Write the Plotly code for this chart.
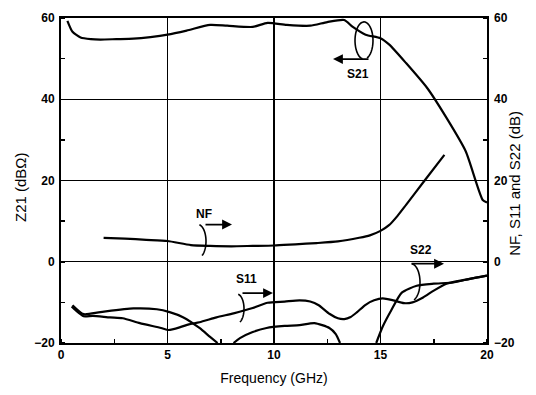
import numpy as np
import plotly.graph_objects as go

# ---------------- data ----------------
s21_f = [0.3, 0.54, 0.92, 1.4, 1.85, 2.6, 3.4, 4.2, 5.0, 5.9, 7.0, 7.8, 9.0, 9.7, 10.6, 11.7, 12.5, 13.3, 13.7, 14.3, 15.0, 15.4, 16.2, 17.2, 18.1, 19.0, 19.8, 20.0]
s21_z = [59.3, 56.6, 55.2, 54.8, 54.7, 54.8, 54.9, 55.3, 55.9, 56.9, 58.3, 58.1, 57.8, 58.8, 58.3, 58.1, 59.0, 59.5, 57.8, 55.9, 55.0, 53.5, 48.9, 42.7, 35.4, 27.2, 15.2, 14.6]

nf_f = [2.0, 3.0, 4.0, 5.0, 6.1, 7.0, 8.0, 9.0, 10.0, 11.0, 12.0, 13.0, 14.0, 14.5, 15.0, 15.4, 15.8, 16.2, 17.0, 18.0]
nf_db = [5.9, 5.7, 5.4, 5.1, 4.1, 3.9, 3.8, 3.9, 4.0, 4.3, 4.6, 5.0, 5.9, 6.5, 7.6, 9.0, 11.3, 14.0, 19.5, 26.3]

s11_f = [0.5, 0.7, 1.06, 1.5, 2.3, 2.9, 3.7, 4.7, 5.05, 5.6, 6.0, 6.5, 7.3, 8.1, 9.0, 9.7, 10.5, 11.2, 11.7, 12.1, 12.6, 13.0, 13.3, 13.6, 13.9, 14.3, 14.7, 15.1, 15.6, 16.1, 16.5, 17.0, 17.5, 18.1, 19.0, 20.0]
s11_db = [-11.0, -12.0, -13.4, -13.3, -13.7, -13.9, -15.1, -16.3, -16.8, -16.1, -15.4, -14.9, -13.7, -12.7, -11.4, -10.1, -9.8, -9.5, -9.8, -10.7, -12.8, -13.9, -14.1, -13.6, -12.4, -10.6, -9.5, -9.0, -9.5, -10.2, -10.0, -8.8, -7.1, -5.4, -4.4, -3.4]

# S22 leaves the bottom of the scale twice; gaps are marked with None
s22_f = [0.54, 1.06, 1.85, 3.4, 4.5, 5.1, 5.75, 6.5, 7.0, 7.35, None,
         8.1, 8.4, 9.0, 9.65, 10.5, 11.2, 11.9, 12.6, 12.9, 13.1, None,
         14.8, 15.1, 15.5, 16.0, 16.7, 17.5, 18.4, 19.2, 20.0]
s22_db = [-10.7, -12.9, -12.4, -11.5, -11.7, -12.4, -13.7, -16.3, -18.5, -20.0, None,
          -20.0, -18.8, -17.3, -16.3, -15.8, -15.6, -15.1, -16.3, -17.8, -20.0, None,
          -20.0, -16.0, -12.0, -7.6, -5.9, -5.4, -5.1, -4.2, -3.4]

x_ticks = [0, 5, 10, 15, 20]
y_ticks = [-20, 0, 20, 40, 60]

# ---------------- figure ----------------
W, H = 536, 395
L, R, T, B = 61, 49, 11, 52
line = dict(color="black", width=2.2)

fig = go.Figure()
fig.add_trace(go.Scatter(x=s21_f, y=s21_z, mode="lines", line=dict(line, shape="spline", smoothing=0.6), name="S21", yaxis="y"))
fig.add_trace(go.Scatter(x=nf_f, y=nf_db, mode="lines", line=dict(line, shape="spline", smoothing=0.6), name="NF", yaxis="y2"))
fig.add_trace(go.Scatter(x=s11_f, y=s11_db, mode="lines", line=dict(line, shape="spline", smoothing=0.6), name="S11", yaxis="y2"))
fig.add_trace(go.Scatter(x=s22_f, y=s22_db, mode="lines", line=dict(line, shape="spline", smoothing=0.6), name="S22", yaxis="y2", connectgaps=False))

# page pixel -> data helpers for the hand-drawn decorations
pw, ph = W - L - R, H - T - B
def dx(px):
    return (px - L) / pw * 20.0
def dy(py):
    return 60.0 - (py - T) / ph * 80.0

def arc(cx, cy, rx, ry, a0, a1, n=40):
    pts = []
    for a in np.linspace(np.radians(a0), np.radians(a1), n):
        pts.append((dx(cx + rx * np.cos(a)), dy(cy + ry * np.sin(a))))
    return "M " + " L ".join(f"{x:.4f},{y:.4f}" for x, y in pts)

shapes = []
curls = [
    (364, 34, 9, 19, 100, 430),
    (198, 239, 8, 17, -80, 60),
    (237, 308, 7, 15, -80, 65),
    (411, 281, 9, 19, -85, 70),
]
for cx, cy, rx, ry, a0, a1 in curls:
    shapes.append(dict(type="path", xref="x", yref="y", path=arc(cx, cy, rx, ry, a0, a1),
                       line=dict(color="black", width=1.6)))

annotations = []
for (tx, ty), (hx, hy) in [
    ((370, 53), (333, 53)),
    ((204, 222), (232, 222)),
    ((241, 292), (273, 292)),
    ((410, 262), (444, 262)),
]:
    annotations.append(dict(x=dx(hx), y=dy(hy), ax=dx(tx), ay=dy(ty), xref="x", yref="y",
                            axref="x", ayref="y", showarrow=True, arrowhead=2, arrowsize=1.1,
                            arrowwidth=1.8, arrowcolor="black", text=""))
lab_font = dict(family="Liberation Sans", size=12, color="black", weight="bold")
for txt, px, py in [("S21", 358, 68), ("NF", 204, 211), ("S11", 246, 278), ("S22", 421, 248)]:
    annotations.append(dict(x=dx(px), y=dy(py), xref="x", yref="y", text=txt, showarrow=False,
                            font=lab_font))

tick_font = dict(family="Liberation Sans", size=12, color="black", weight="bold")
title_font = dict(family="Liberation Sans", size=14, color="black")
vtitle_font = dict(family="Liberation Sans", size=15, color="black")

annotations.append(dict(xref="paper", yref="paper", x=0, y=0.48, xshift=-41, text="Z21 (dBΩ)",
                        textangle=-90, showarrow=False, font=vtitle_font, xanchor="center", yanchor="middle"))
annotations.append(dict(xref="paper", yref="paper", x=1, y=0.49, xshift=28, text="NF, S11 and S22 (dB)",
                        textangle=-90, showarrow=False, font=vtitle_font, xanchor="center", yanchor="middle"))

fig.update_layout(
    width=W, height=H,
    margin=dict(l=L, r=R, t=T, b=B),
    paper_bgcolor="white", plot_bgcolor="white",
    showlegend=False,
    hovermode=False,
    shapes=shapes,
    annotations=annotations,
    xaxis=dict(range=[0, 20], tickvals=x_ticks, ticks="", showline=True, linecolor="black", linewidth=2,
               mirror=True, showgrid=True, gridcolor="black", gridwidth=1.2, zeroline=False,
               tickfont=tick_font, title=dict(text="Frequency (GHz)", font=title_font, standoff=12),
               minor=dict(dtick=2.5, ticks="inside", ticklen=4, tickcolor="black", tickwidth=1.5, showgrid=False)),
    yaxis=dict(range=[-20, 60], tickvals=y_ticks, ticks="", showline=True, linecolor="black", linewidth=2,
               mirror=True, showgrid=True, gridcolor="black", gridwidth=1.2, zeroline=False,
               tickfont=tick_font, ticklabelstandoff=2,
               minor=dict(dtick=10, ticks="inside", ticklen=4, tickcolor="black", tickwidth=1.5, showgrid=False)),
    yaxis2=dict(range=[-20, 60], tickvals=y_ticks, overlaying="y", side="right", ticks="",
                showgrid=False, zeroline=False, showline=False,
                tickfont=tick_font, ticklabelstandoff=6,
                minor=dict(dtick=10, ticks="inside", ticklen=4, tickcolor="black", tickwidth=1.5, showgrid=False)),
)

# remove the browser's default body margin so the figure sits at the page origin
fig.write_html("out.html", config={"displayModeBar": False, "staticPlot": True},
               post_script="document.body.style.margin='0';document.body.style.overflow='hidden';")
